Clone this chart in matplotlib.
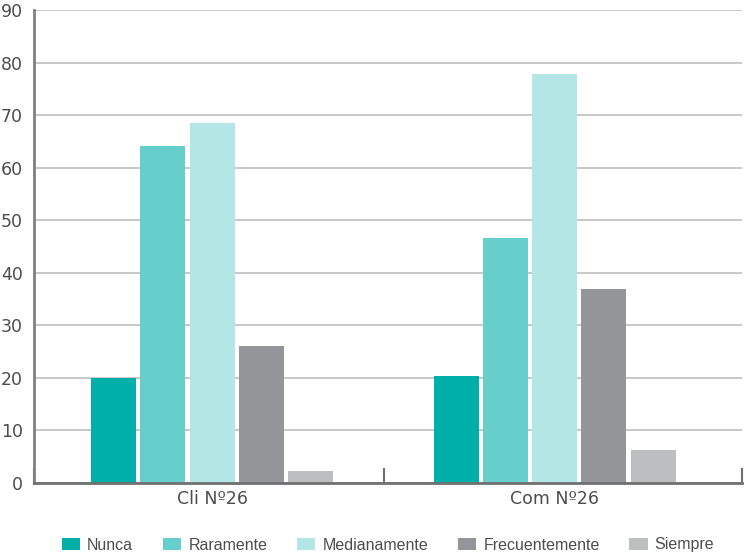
import matplotlib
matplotlib.use("Agg")
import matplotlib.pyplot as plt
import numpy as np

groups = ["Cli Nº26", "Com Nº26"]
series = ["Nunca", "Raramente", "Medianamente", "Frecuentemente", "Siempre"]
nunca = [20.0, 20.4]
raramente = [64.1, 46.6]
medianamente = [68.5, 77.8]
frecuentemente = [26.1, 36.9]
siempre = [2.3, 6.3]
colors = ["#00AFA9", "#66CFCB", "#B3E6E4", "#939598", "#BCBEC0"]
yticks = [0, 10, 20, 30, 40, 50, 60, 70, 80, 90]

values = [nunca, raramente, medianamente, frecuentemente, siempre]

fig = plt.figure(figsize=(7.46, 5.56), dpi=100)
ax = fig.add_axes([34 / 746, 73 / 556, 708 / 746, 473 / 556])

centers = np.array([0.503, 1.471])
pitch = 0.139
width = 0.127
handles = []
for i, (name, vals, c) in enumerate(zip(series, values, colors)):
    off = (i - 2) * pitch
    b = ax.bar(centers + off, vals, width=width, color=c, label=name, zorder=3)
    handles.append(b)

ax.set_xlim(0, 2)
ax.set_ylim(0, 90)
ax.set_yticks(yticks)
ax.yaxis.grid(True, color="#c8c8c8", linewidth=1.4, zorder=0)
ax.set_axisbelow(True)

ax.set_xticks([0, 0.989, 2])
ax.set_xticklabels(["", "", ""])
ax.set_xticks(centers, minor=True)
ax.set_xticklabels(groups, minor=True)
ax.tick_params(axis="x", which="major", direction="in", length=11,
               width=1.5, color="#707070")
ax.tick_params(axis="x", which="minor", length=0, pad=5,
               labelsize=12.5, labelcolor="#4d4d4d")
ax.tick_params(axis="y", length=0, pad=8, labelsize=12.5, labelcolor="#4d4d4d")

for s in ["top", "right"]:
    ax.spines[s].set_visible(False)
ax.spines["left"].set_color("#808080")
ax.spines["left"].set_linewidth(2)
ax.spines["bottom"].set_color("#707070")
ax.spines["bottom"].set_linewidth(2)
ax.spines["bottom"].set_zorder(4)

fig.legend(handles=handles, labels=series, loc="center",
           bbox_to_anchor=(388 / 746, 1 - 545 / 556), ncol=5, frameon=False,
           prop={"family": "Liberation Sans", "size": 11.5},
           labelcolor="#4d4d4d", handlelength=1.15, handleheight=0.8,
           handletextpad=0.45, columnspacing=1.85)

fig.savefig("out.png", dpi=100, facecolor="white")
